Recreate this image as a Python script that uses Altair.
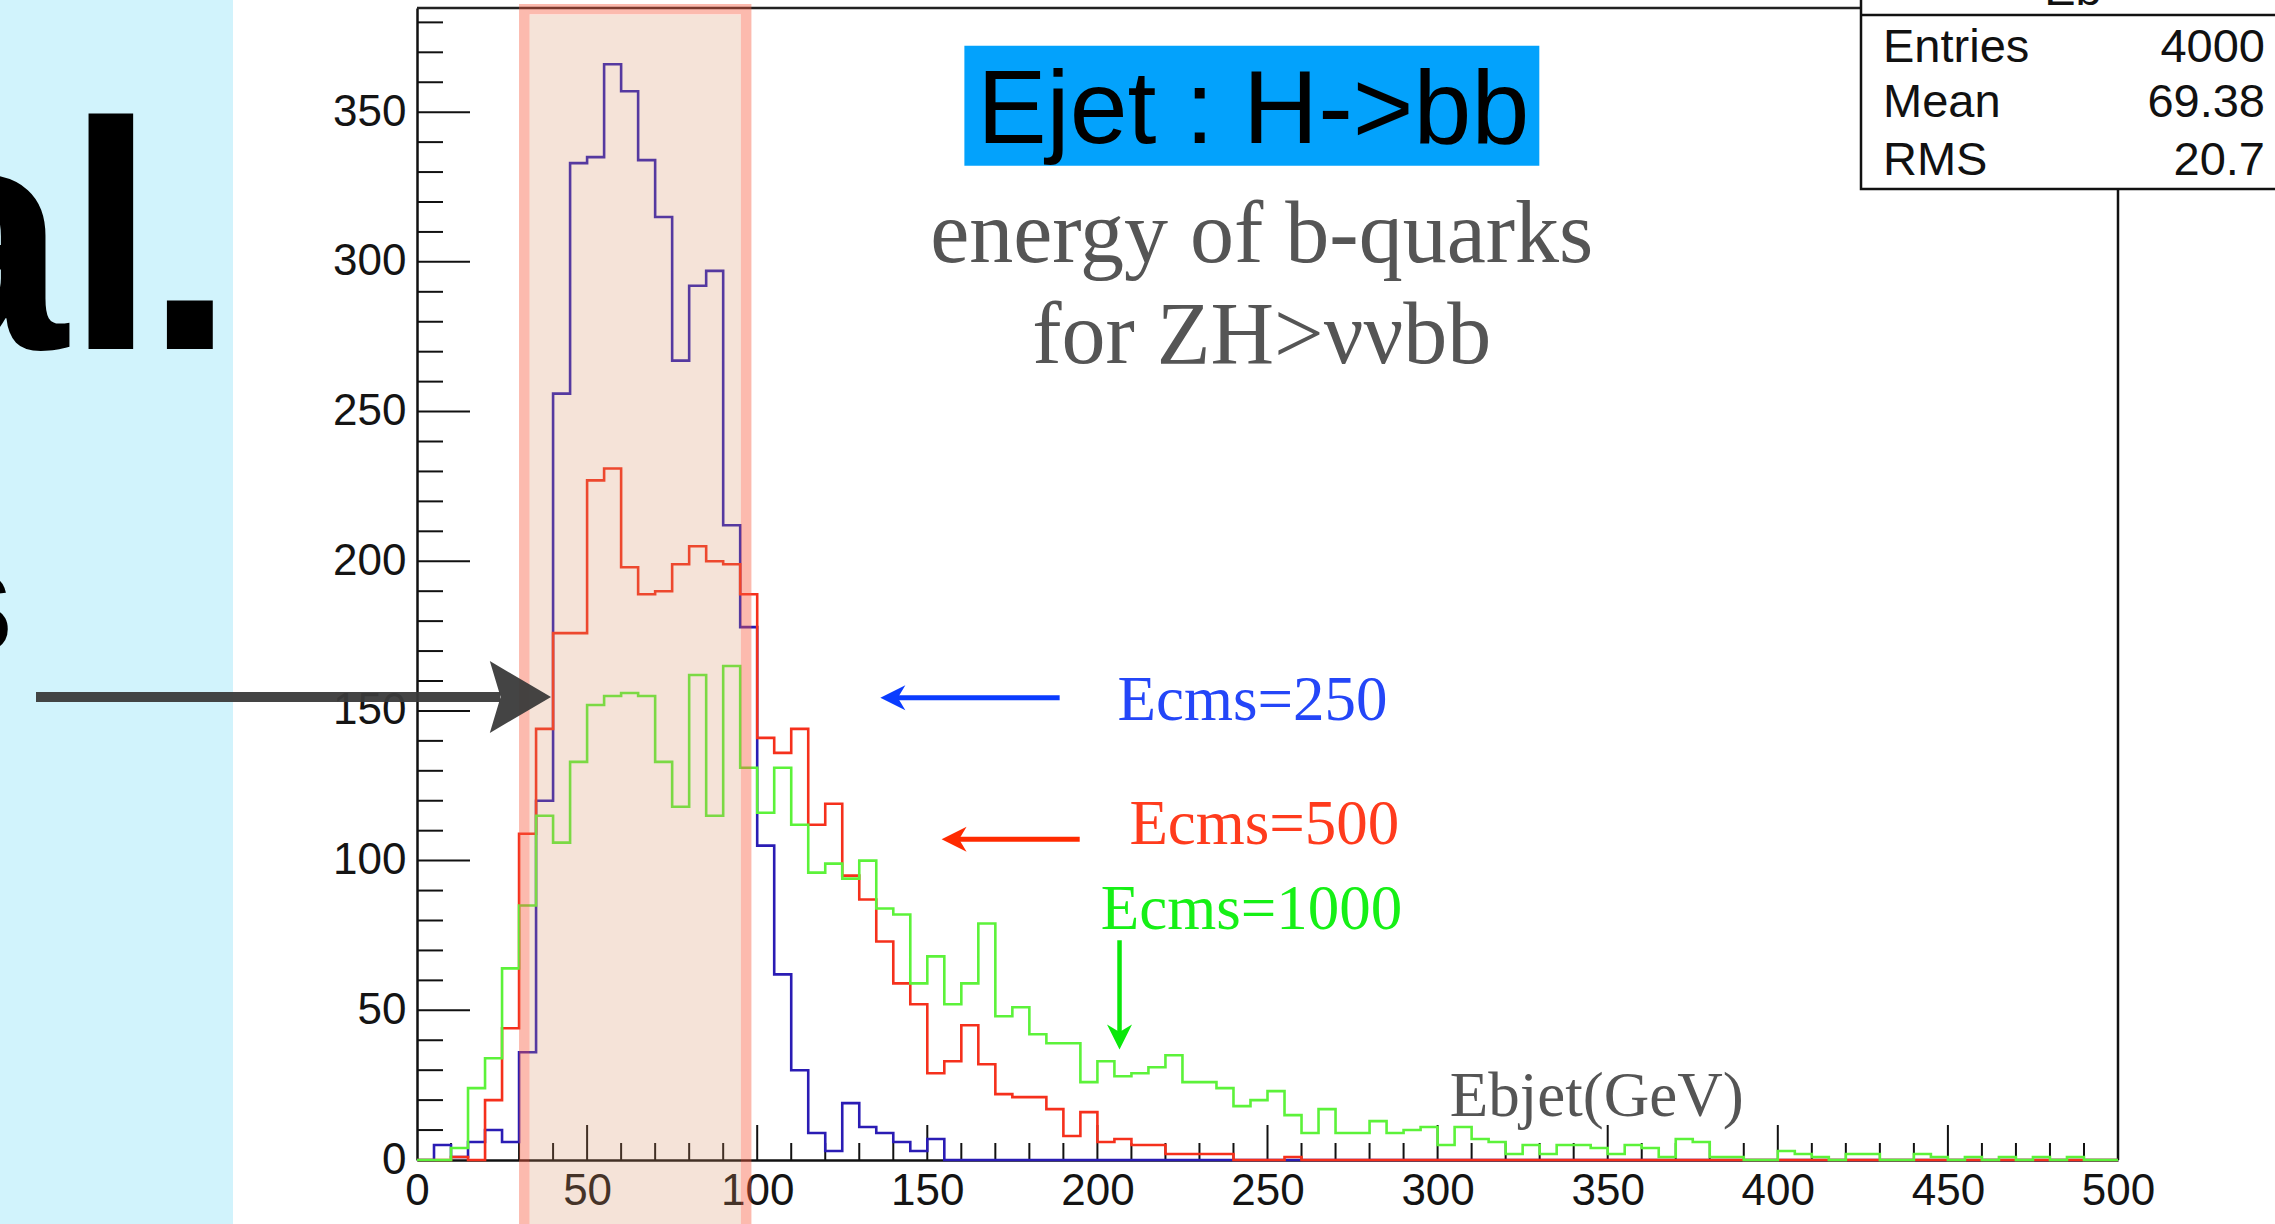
import altair as alt
import pandas as pd

# ---------------------------------------------------------------------------
# Energy of the b-jets from H->bb in ZH->nunu bb events: 100 bins of 5 GeV
# ---------------------------------------------------------------------------
BIN_EDGES = list(range(0, 505, 5))

ecms250 = [
    0, 5, 1, 6, 10, 6, 36, 120, 256, 333, 335, 366, 357, 334, 315, 267, 292, 297, 212, 178,
    105, 62, 30, 9, 3, 19, 11, 9, 6, 3, 7, 0, 0, 0, 0, 0, 0, 0, 0, 0,
    0, 0, 0, 0, 0, 0, 0, 0, 0, 0, 0, 0, 0, 0, 0, 0, 0, 0, 0, 0,
    0, 0, 0, 0, 0, 0, 0, 0, 0, 0, 0, 0, 0, 0, 0, 0, 0, 0, 0, 0,
    0, 0, 0, 0, 0, 0, 0, 0, 0, 0, 0, 0, 0, 0, 0, 0, 0, 0, 0, 0,
]
ecms500 = [
    0, 0, 1, 0, 20, 44, 109, 144, 176, 176, 227, 231, 198, 189, 190, 199, 205, 200, 199, 189,
    141, 136, 144, 112, 119, 95, 87, 73, 59, 52, 29, 33, 45, 32, 22, 21, 21, 17, 8, 16,
    6, 7, 5, 5, 2, 2, 2, 2, 0, 0, 0, 1, 0, 0, 0, 0, 0, 0, 0, 0,
    0, 0, 0, 0, 0, 0, 0, 0, 0, 0, 0, 0, 0, 0, 0, 0, 0, 0, 0, 0,
    0, 0, 0, 0, 0, 0, 0, 0, 0, 0, 0, 0, 0, 0, 0, 0, 0, 0, 0, 0,
]
ecms1000 = [
    0, 0, 4, 24, 34, 64, 85, 115, 106, 133, 152, 155, 156, 155, 133, 118, 162, 115, 165, 131,
    116, 131, 112, 96, 99, 94, 100, 84, 82, 59, 68, 52, 59, 79, 48, 51, 42, 39, 39, 26,
    33, 28, 29, 31, 35, 26, 26, 24, 18, 20, 23, 15, 9, 17, 9, 9, 13, 9, 10, 11,
    5, 11, 7, 6, 2, 5, 2, 5, 5, 4, 2, 5, 4, 1, 7, 6, 1, 1, 0, 0,
    3, 2, 1, 0, 2, 2, 0, 0, 2, 1, 0, 1, 0, 1, 0, 1, 0, 1, 0, 0,
]

X_LABELS = [0, 50, 100, 150, 200, 250, 300, 350, 400, 450, 500]
Y_LABELS = [0, 50, 100, 150, 200, 250, 300, 350]
X_MINOR_STEP = 10
Y_MINOR_STEP = 10

STAT_NAMES = ["Entries", "Mean", "RMS"]
STAT_VALUES = ["4000", "69.38", "20.7"]

# ---------------------------------------------------------------------------
# Geometry and styling
# ---------------------------------------------------------------------------
PAD_L, PAD_T, PAD_R, PAD_B = 417, 8, 157, 64
W, H = 1701, 1152
X_MAX, Y_MAX = 500, 384.8
PX_PER_X = W / X_MAX
PX_PER_Y = H / Y_MAX

SANS = "Liberation Sans, Arial, Helvetica, sans-serif"
SERIF = "Liberation Serif, Times New Roman, serif"

C_250, C_500, C_1000 = "#2A1CB4", "#F5301C", "#5CF23A"

XS = alt.Scale(domain=[0, X_MAX], nice=False, zero=False)
YS = alt.Scale(domain=[0, Y_MAX], nice=False, zero=False)

X_AXIS = alt.Axis(
    title=None, values=X_LABELS, ticks=False, grid=False,
    domainColor="#111111", domainWidth=2.5, labelFont=SANS, labelFontSize=44,
    labelColor="#141414", labelPadding=9, labelFlush=False, labelOverlap=False,
    format="d",
)
Y_AXIS = alt.Axis(
    title=None, values=Y_LABELS, ticks=False, grid=False,
    domainColor="#111111", domainWidth=2.5, labelFont=SANS, labelFontSize=44,
    labelColor="#141414", labelPadding=11, labelOverlap=False, format="d",
)


def xd(v):
    return alt.XDatum(v, scale=XS, axis=X_AXIS)


def yd(v):
    return alt.YDatum(v, scale=YS, axis=Y_AXIS)


ONE = pd.DataFrame({"k": [0]})


def step_frame(counts):
    return pd.DataFrame({"e": BIN_EDGES, "n": counts + [counts[-1]]})


def px_text(text, x, y, size, color="#000000", font=SANS, weight="normal", align="left"):
    """Text placed in canvas pixels (converted to the plot's origin)."""
    return alt.Chart(ONE).mark_text(
        text=text, font=font, fontSize=size, fontWeight=weight, align=align,
        baseline="alphabetic", color=color,
    ).encode(x=alt.value(x - PAD_L), y=alt.value(y - PAD_T))


# ---------------------------------------------------------------------------
# Slide decoration on the left
# ---------------------------------------------------------------------------
panel = alt.Chart(ONE).mark_rect(color="#D1F3FC").encode(
    x=alt.value(-PAD_L - 5), x2=alt.value(233 - PAD_L),
    y=alt.value(-PAD_T - 5), y2=alt.value(H + PAD_B + 5),
)
# large heading fragment "al." set glyph by glyph
slide_glyphs = [
    px_text("a", -23, 349, 325, weight="bold", align="center"),
    px_text("l", 111, 349, 325, weight="bold", align="center"),
    px_text(".", 190, 349, 325, weight="bold", align="center"),
    px_text("s", 14, 653, 150, weight="bold", align="right"),
]

# ---------------------------------------------------------------------------
# Frame and inward ticks
# ---------------------------------------------------------------------------
frame_top = alt.Chart(ONE).mark_rule(color="#222222", strokeWidth=2.5).encode(
    x=alt.value(0), x2=alt.value(W), y=alt.value(0)
)
frame_right = alt.Chart(ONE).mark_rule(color="#111111", strokeWidth=2.5).encode(
    x=alt.value(W), y=alt.value(0), y2=alt.value(H)
)

x_minor = [t for t in range(X_MINOR_STEP, X_MAX, X_MINOR_STEP) if t % 50]
x_major = [t for t in range(50, X_MAX, 50)]
y_minor = [t for t in range(Y_MINOR_STEP, int(Y_MAX) + 1, Y_MINOR_STEP) if t % 50]
y_major = [t for t in range(50, int(Y_MAX) + 1, 50)]


def x_ticks(vals, length):
    return alt.Chart(pd.DataFrame({"t": vals})).mark_rule(color="#111111", strokeWidth=2).encode(
        x=alt.X("t:Q", scale=XS, axis=X_AXIS), y=alt.value(H), y2=alt.value(H - length)
    )


def y_ticks(vals, length):
    return alt.Chart(pd.DataFrame({"t": vals})).mark_rule(color="#111111", strokeWidth=2).encode(
        y=alt.Y("t:Q", scale=YS, axis=Y_AXIS), x=alt.value(0), x2=alt.value(length)
    )


ticks = [x_ticks(x_major, 35), x_ticks(x_minor, 17), y_ticks(y_major, 53), y_ticks(y_minor, 26)]

# ---------------------------------------------------------------------------
# Histograms
# ---------------------------------------------------------------------------
def hist(counts, color):
    return alt.Chart(step_frame(counts)).mark_line(
        interpolate="step-after", color=color, strokeWidth=2.6
    ).encode(
        x=alt.X("e:Q", scale=XS, axis=X_AXIS),
        y=alt.Y("n:Q", scale=YS, axis=Y_AXIS),
    )


hists = [hist(ecms250, C_250), hist(ecms500, C_500), hist(ecms1000, C_1000)]

# ---------------------------------------------------------------------------
# Annotations
# ---------------------------------------------------------------------------
title_box = alt.Chart(ONE).mark_rect(color="#03A2FC").encode(
    x=xd(160.9), x2=alt.X2Datum(329.9), y=yd(372.2), y2=alt.Y2Datum(332.1)
)
title_text = alt.Chart(ONE).mark_text(
    text="Ejet : H->bb", font=SANS, fontSize=104, align="center",
    baseline="alphabetic", color="#000000",
).encode(x=xd(245.8), y=yd(339.8))
subtitle = alt.Chart(ONE).mark_text(
    text=["energy of b-quarks", "for ZH>ννbb"], font=SERIF, fontSize=88,
    lineHeight=101, align="center", baseline="alphabetic", color="#555555",
).encode(x=xd(248.3), y=yd(300.1))


def label(text, x, y, color, size=63):
    return alt.Chart(ONE).mark_text(
        text=text, font=SERIF, fontSize=size, align="left",
        baseline="alphabetic", color=color,
    ).encode(x=xd(x), y=yd(y))


HEAD_LEFT = "M -1 0 L 1 -1 L 0.4 0 L 1 1 Z"
HEAD_DOWN = "M 0 1 L -1 -1 L 0 -0.4 L 1 -1 Z"
HEAD_PX = 25


def h_arrow(tip, x_end, y, color, width=5):
    shaft = alt.Chart(ONE).mark_rule(color=color, strokeWidth=width).encode(
        x=xd(tip + 0.6 * HEAD_PX / PX_PER_X), x2=alt.X2Datum(x_end), y=yd(y)
    )
    head = alt.Chart(ONE).mark_point(
        shape=HEAD_LEFT, filled=True, size=HEAD_PX ** 2, color=color,
        opacity=1, strokeWidth=0,
    ).encode(x=xd(tip + 0.5 * HEAD_PX / PX_PER_X), y=yd(y))
    return [shaft, head]


def v_arrow(x, y_start, tip, color, width=4.5):
    shaft = alt.Chart(ONE).mark_rule(color=color, strokeWidth=width).encode(
        x=xd(x), y=yd(y_start), y2=alt.Y2Datum(tip + 0.6 * HEAD_PX / PX_PER_Y)
    )
    head = alt.Chart(ONE).mark_point(
        shape=HEAD_DOWN, filled=True, size=HEAD_PX ** 2, color=color,
        opacity=1, strokeWidth=0,
    ).encode(x=xd(x), y=yd(tip + 0.5 * HEAD_PX / PX_PER_Y))
    return [shaft, head]


notes = [
    title_box, title_text, subtitle,
    label("Ecms=250", 205.9, 147.1, "#2446F8"),
    label("Ecms=500", 209.4, 105.7, "#FF3B1D"),
    label("Ecms=1000", 201.0, 77.0, "#16F016"),
    label("Ebjet(GeV)", 303.6, 14.7, "#555555"),
]
notes += h_arrow(136.2, 188.9, 154.4, "#0A3CFF")
notes += h_arrow(154.2, 194.8, 107.1, "#FF2A00")
notes += v_arrow(206.5, 73.4, 36.9, "#0BE80B")

# ---------------------------------------------------------------------------
# Highlighted energy window (semi-transparent, drawn over the data)
# ---------------------------------------------------------------------------
BAND_LO, BAND_HI = 30.0, 98.3
BORDER_PX = 10.5
bd = BORDER_PX / PX_PER_X
band_fill = alt.Chart(ONE).mark_rect(color="#D78F63", opacity=0.25).encode(
    x=xd(BAND_LO + bd), x2=alt.X2Datum(BAND_HI - bd),
    y=alt.value(15 - PAD_T), y2=alt.value(H + PAD_B + 10),
)
band_edge = alt.Chart(ONE).mark_rect(
    filled=False, stroke="#F85A3E", strokeOpacity=0.42, strokeWidth=BORDER_PX
).encode(
    x=xd(BAND_LO + bd / 2), x2=alt.X2Datum(BAND_HI - bd / 2),
    y=alt.value(4 + BORDER_PX / 2 - PAD_T), y2=alt.value(H + PAD_B + 30),
)

# ---------------------------------------------------------------------------
# Statistics box (top right)
# ---------------------------------------------------------------------------
stat_box = alt.Chart(ONE).mark_rect(
    fill="#FFFFFF", stroke="#111111", strokeWidth=2.5
).encode(
    x=alt.value(1861 - PAD_L), x2=alt.value(2300 - PAD_L),
    y=alt.value(-20), y2=alt.value(189 - PAD_T),
)
stat_sep = alt.Chart(ONE).mark_rule(color="#111111", strokeWidth=2.5).encode(
    x=alt.value(1861 - PAD_L), x2=alt.value(2300 - PAD_L), y=alt.value(15 - PAD_T)
)
STAT_BASELINES = [62, 117, 175]
stat_texts = [px_text("Eb", 2073, 5, 47, color="#111111", align="center")]
for name, value, base in zip(STAT_NAMES, STAT_VALUES, STAT_BASELINES):
    stat_texts.append(px_text(name, 1883, base, 47, color="#111111"))
    stat_texts.append(px_text(value, 2265, base, 47, color="#111111", align="right"))

# ---------------------------------------------------------------------------
# Hand-drawn pointer from the slide text into the window
# ---------------------------------------------------------------------------
hand_shaft = alt.Chart(ONE).mark_rule(color="#3A3A3A", strokeWidth=10, opacity=0.95).encode(
    x=alt.value(36 - PAD_L), x2=alt.value(500 - PAD_L), y=alt.value(697 - PAD_T)
)
hand_head = alt.Chart(ONE).mark_point(
    shape="M 1 0 L -0.7 -1 L -0.4 0 L -0.7 1 Z", filled=True, size=72 ** 2,
    color="#3A3A3A", opacity=0.95, strokeWidth=0,
).encode(x=alt.value(515 - PAD_L), y=alt.value(697 - PAD_T))

layers = (
    [panel] + slide_glyphs + [frame_top, frame_right]
    + ticks + hists + notes
    + [band_fill, band_edge, stat_box, stat_sep] + stat_texts
    + [hand_shaft, hand_head]
)

chart = alt.layer(*layers).properties(
    width=W, height=H,
    padding={"left": PAD_L, "top": PAD_T, "right": PAD_R, "bottom": PAD_B},
    autosize=alt.AutoSizeParams(type="none"),
    background="#FFFFFF",
).configure_view(strokeWidth=0)

chart.save("out.html", embed_options={"renderer": "svg", "actions": False})
